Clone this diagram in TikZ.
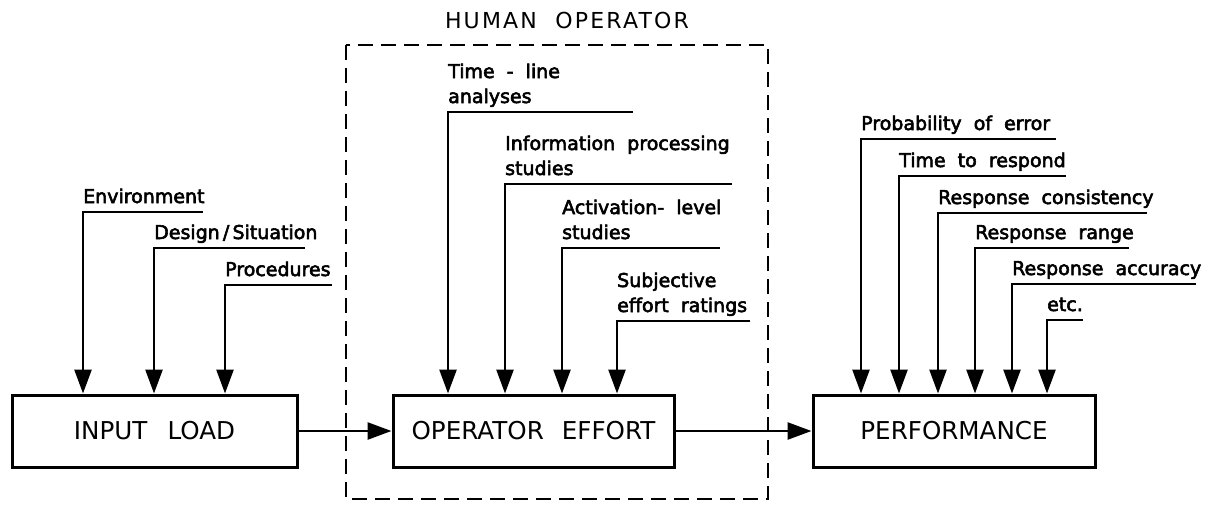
\documentclass[tikz,border=0pt]{standalone}
\usepackage{fontspec}
\setmainfont{DejaVu Sans}[WordSpace=2]
\newfontfamily\lblfont{DejaVu Sans}[WordSpace=2,FakeBold=3]
\usetikzlibrary{arrows.meta}

\begin{document}
\begin{tikzpicture}[x=1pt,y=-1pt,
	box/.style={draw,line width=3pt,minimum width=#1,minimum height=72pt,inner sep=0pt,font=\fontsize{24.6}{28}\selectfont},
	lbl/.style={anchor=base west,inner sep=0pt,align=left,font=\lblfont\fontsize{19}{25}\selectfont},
	feed/.style={line width=2.6pt,-{Triangle[length=24pt,width=17pt]}},
	]
	\useasboundingbox (0,0) rectangle (1207,504);

	% the three blocks
	\node[box=285pt] (input) at (154.5,431) {INPUT\hspace{20pt}LOAD};
	\node[box=281pt] (operator) at (533.5,431) {OPERATOR\hspace{18pt}EFFORT};
	\node[box=282pt] (perf) at (954,431) {PERFORMANCE};

	\draw[feed] (input) -- (operator);
	\draw[feed] (operator) -- (perf);

	% human operator frame
	\draw[line width=2.2pt,dash pattern=on 15pt off 8pt] (346,45) rectangle (768,499);
	\node[font=\fontsize{22}{26}\selectfont\addfontfeature{LetterSpace=10}] (human) at (567,20) {HUMAN OPERATOR};

	% inputs
	\foreach \x/\y/\e/\t [count=\i] in {83/212/203/Environment, 154/248/305/{Design\,/\,Situation}, 225/285/332/Procedures}{
		\node[lbl] (inL\i) at (\x,\y-9) {\t};
		\coordinate (inC\i) at (\x,\y);
		\coordinate (inE\i) at (\e,\y);
		\draw[feed] (inE\i) -- (inC\i) -- (inC\i |- input.north);
	}

	% measures of effort
	\foreach \x/\y/\e/\t [count=\i] in {448/112/633/{Time - line\\analyses}, 505/184/732/{Information processing\\studies}, 562/248/720/{Activation- level\\studies}, 617/321/750/{Subjective\\effort ratings}}{
		\node[lbl] (opL\i) at (\x,\y-9) {\t};
		\coordinate (opC\i) at (\x,\y);
		\coordinate (opE\i) at (\e,\y);
		\draw[feed] (opE\i) -- (opC\i) -- (opC\i |- operator.north);
	}

	% performance measures
	\foreach \x/\y/\e/\t [count=\i] in {861/139/1056/Probability of error, 899/176/1066/Time to respond, 938/213/1147/Response consistency, 975/248/1129/Response range, 1012/284/1196/Response accuracy, 1047/320/1083/etc.}{
		\node[lbl] (pfL\i) at (\x,\y-9) {\t};
		\coordinate (pfC\i) at (\x,\y);
		\coordinate (pfE\i) at (\e,\y);
		\draw[feed] (pfE\i) -- (pfC\i) -- (pfC\i |- perf.north);
	}
\end{tikzpicture}
\end{document}
